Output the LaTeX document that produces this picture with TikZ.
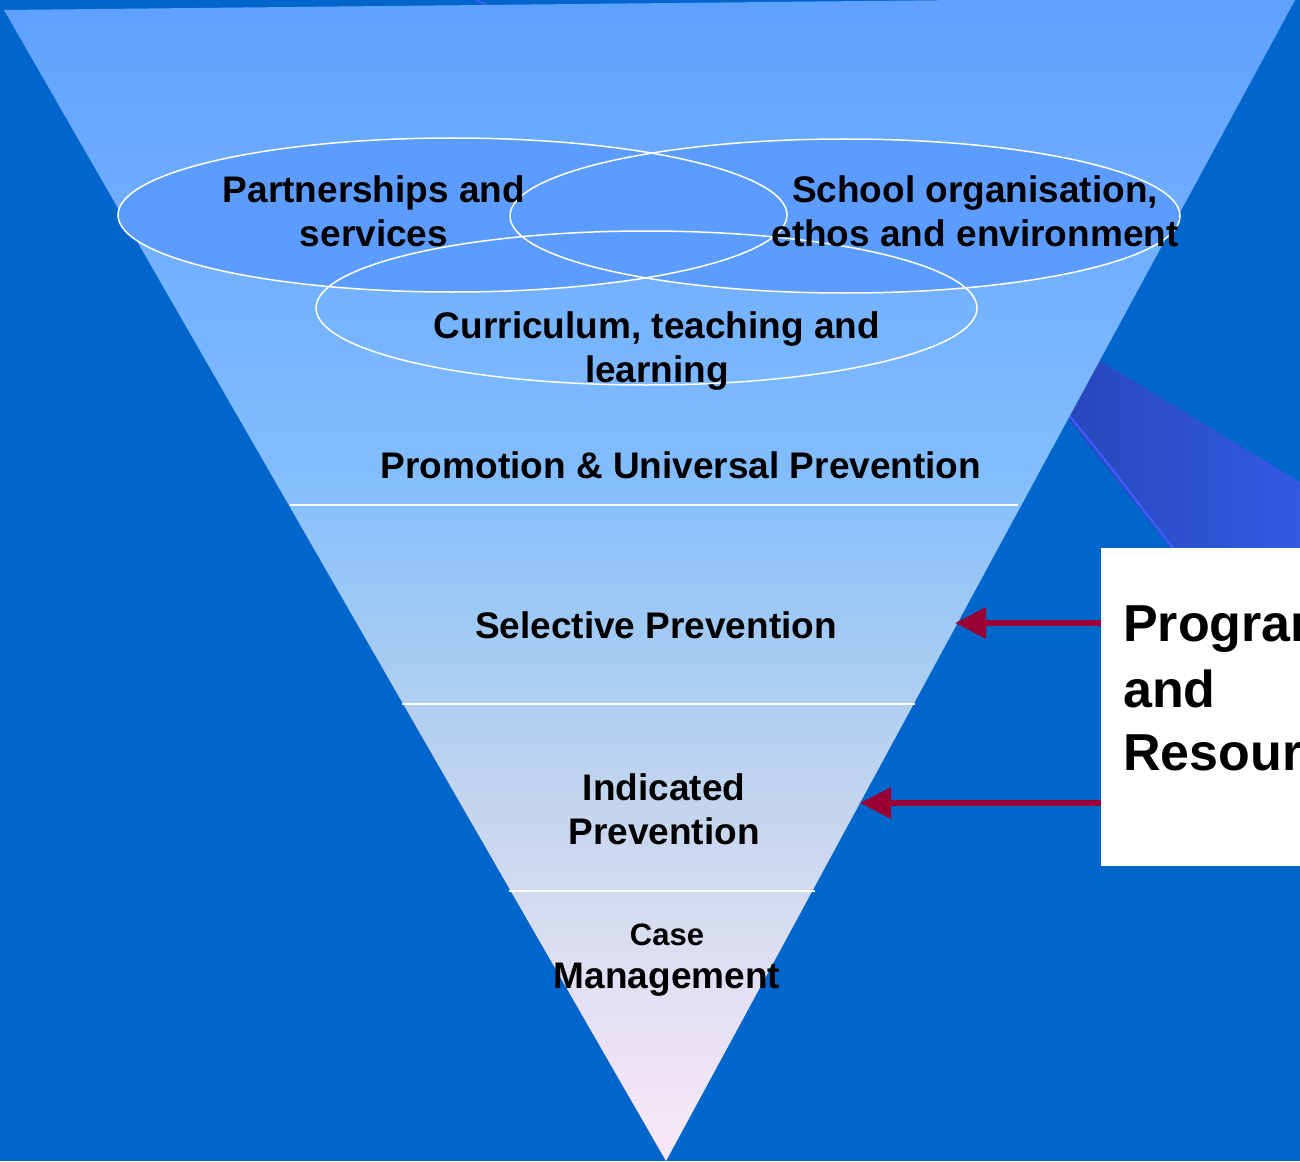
\documentclass[tikz,border=0pt]{standalone}
\usepackage{fontspec}
\setmainfont{Liberation Sans}
\usetikzlibrary{arrows.meta,shapes.geometric}
\definecolor{bg}{RGB}{0,102,204}
\definecolor{f1}{RGB}{95,160,255}
\definecolor{f2}{RGB}{128,188,255}
\definecolor{f3}{RGB}{155,200,245}
\definecolor{f4}{RGB}{195,213,238}
\definecolor{f5}{RGB}{220,222,242}
\definecolor{f6}{RGB}{250,232,248}
\definecolor{ellfill}{RGB}{92,156,255}
\definecolor{bandL}{RGB}{36,66,176}
\definecolor{bandR}{RGB}{50,90,228}
\definecolor{bandline}{RGB}{60,95,255}
\definecolor{arrowred}{RGB}{153,0,51}
\pgfdeclareverticalshading{funnel}{100bp}{color(0bp)=(f6); color(25bp)=(f6); color(34bp)=(f5); color(40.5bp)=(f4); color(49.2bp)=(f3); color(55.2bp)=(f2); color(75bp)=(f1); color(100bp)=(f1)}
\tikzset{
  lbl/.style={inner sep=0pt, align=center, text=black, font=\fontsize{37}{44}\selectfont\bfseries},
  small/.style={inner sep=0pt, align=center, text=black, font=\fontsize{31}{38}\selectfont\bfseries},
  big/.style={inner sep=0pt, align=left, text=black, font=\fontsize{52}{63}\selectfont\bfseries},
  ring/.style={ellipse, draw=white, line width=1.5pt, inner sep=0pt},
  divider/.style={draw=white, line width=1.5pt},
  arr/.style={draw=arrowred, line width=6pt, -{Triangle[length=31pt,width=30pt]}},
}
\begin{document}
\begin{tikzpicture}[x=1pt,y=-1pt]
\useasboundingbox (0,0) rectangle (1300,1161);
\clip (0,0) rectangle (1300,1161);
\fill[bg] (0,0) rectangle (1300,1161);
% background band
\shade[left color=bandL, right color=bandR] (1000,300) -- (1300,482) -- (1300,560) -- (1180,560) -- (1000,333) -- cycle;
\draw[bandline, line width=2pt] (1000,333) .. controls (1090,440) .. (1176,552);
\draw[bandline, line width=2pt] (476,0) -- (487,5);
% funnel
\shade[shading=funnel] (4,10) -- (1297,-3.5) -- (666,1161) -- cycle;
\draw[divider] (290,505) -- (1018,505);
\draw[divider] (402,704) -- (915,704);
\draw[divider] (509,891) -- (815,891);
% ellipses
\fill[ellfill] (452.5,215) ellipse [x radius=334.5pt, y radius=77pt];
\fill[ellfill] (845,216) ellipse [x radius=335pt, y radius=77pt];
\node[ring, minimum width=669pt, minimum height=154pt] (e1) at (452.5,215) {};
\node[ring, minimum width=670pt, minimum height=154pt] (e2) at (845,216) {};
\node[ring, minimum width=661pt, minimum height=154pt] (e3) at (646.5,308) {};
% labels
\node[lbl] (t1) at (374,211) {Partnerships and\\services};
\node[lbl] (t2) at (975,211) {School organisation,\\ethos and environment};
\node[lbl] (t3) at (657,351) {Curriculum, teaching and\\learning};
\node[lbl] (t4) at (681,465) {Promotion \& Universal Prevention};
\node[lbl] (t5) at (656,625) {Selective Prevention};
\node[lbl] (t6) at (664,809) {Indicated\\Prevention};
\node[small] (t7) at (667,935) {Case};
\node[lbl] (t8) at (667,980) {Management};
% box
\node[fill=white, anchor=north west, minimum width=230pt, minimum height=318pt, inner sep=0pt] (box) at (1101,548) {};
\node[big, anchor=north west] (prog) at (1123,606) {Programs\\[3pt]and\\Resources};
% arrows
\coordinate (tip1) at (955,623);
\coordinate (tip2) at (860,803);
\draw[arr] (box.west |- tip1) -- (tip1);
\draw[arr] (box.west |- tip2) -- (tip2);
\end{tikzpicture}
\end{document}
